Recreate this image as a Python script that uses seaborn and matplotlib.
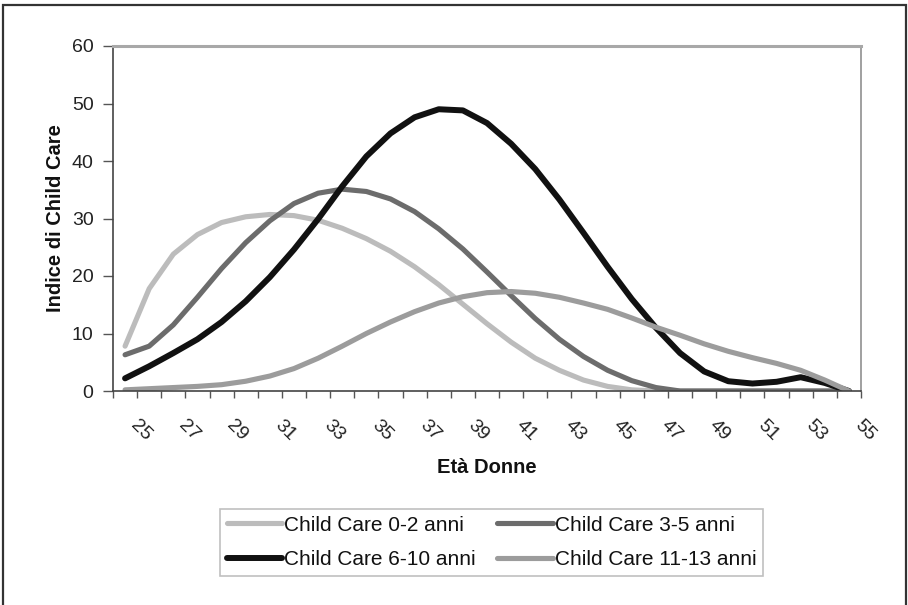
import matplotlib
matplotlib.use("Agg")
import matplotlib.pyplot as plt
from matplotlib.patches import Rectangle
from matplotlib.lines import Line2D
from matplotlib.transforms import ScaledTranslation
import numpy as np
import pandas as pd
import seaborn as sns

# Women's age (one category per year)
ages = list(range(25, 56))

# Child care index by age of the woman, one series per age band of the children
cc_0_2 = [7.8, 17.8, 23.8, 27.2, 29.3, 30.3, 30.7, 30.5, 29.7, 28.3, 26.5,
          24.3, 21.6, 18.5, 15.1, 11.7, 8.5, 5.7, 3.6, 1.9, 0.8, 0.2, 0.0,
          0.0, 0.0, 0.0, 0.0, 0.0, 0.0, 0.0, 0.0]
cc_3_5 = [6.3, 7.8, 11.5, 16.3, 21.3, 25.8, 29.6, 32.6, 34.4, 35.1, 34.7,
          33.4, 31.2, 28.2, 24.7, 20.7, 16.6, 12.6, 9.0, 6.0, 3.6, 1.8, 0.6,
          0.0, 0.0, 0.0, 0.0, 0.0, 0.0, 0.0, 0.0]
cc_6_10 = [2.2, 4.3, 6.6, 9.0, 12.0, 15.6, 19.8, 24.6, 29.9, 35.6, 40.8,
           44.8, 47.6, 49.0, 48.8, 46.6, 43.0, 38.6, 33.3, 27.5, 21.6, 16.0,
           11.0, 6.6, 3.4, 1.7, 1.3, 1.6, 2.4, 1.4, 0.0]
cc_11_13 = [0.2, 0.4, 0.6, 0.8, 1.1, 1.7, 2.6, 3.9, 5.7, 7.8, 10.0, 12.0,
            13.8, 15.3, 16.4, 17.1, 17.3, 17.0, 16.3, 15.3, 14.2, 12.7, 11.1,
            9.7, 8.2, 6.9, 5.8, 4.8, 3.6, 1.9, 0.0]

series_names = ["Child Care 0-2 anni", "Child Care 3-5 anni",
                "Child Care 6-10 anni", "Child Care 11-13 anni"]
series_colors = ["#bcbcbc", "#6c6c6c", "#111111", "#9c9c9c"]
series_widths = [3.7, 3.7, 4.3, 3.7]

x_ticks = list(range(25, 56, 2))
y_ticks = [0, 10, 20, 30, 40, 50, 60]

df = pd.DataFrame({
    "age": ages * 4,
    "value": cc_0_2 + cc_3_5 + cc_6_10 + cc_11_13,
    "series": sum([[n] * len(ages) for n in series_names], []),
})

sns.set_theme(style="white")
plt.rcParams["font.family"] = ["Liberation Sans", "DejaVu Sans"]

W, H = 908, 605
fig = plt.figure(figsize=(W / 100, H / 100), dpi=100)
fig.patch.set_facecolor("white")

# outer frame of the figure
fig.patches.append(Rectangle((3 / W, -0.05), 903 / W, 1.05 - 5 / H,
                             transform=fig.transFigure, fill=False,
                             edgecolor="#333333", linewidth=1.6))

left, right, top, bottom = 113, 861, 46, 391
ax = fig.add_axes([left / W, 1 - bottom / H, (right - left) / W, (bottom - top) / H])

palette = dict(zip(series_names, series_colors))
sns.lineplot(data=df, x="age", y="value", hue="series", hue_order=series_names,
             palette=palette, linewidth=3.7, ax=ax, legend=False,
             solid_capstyle="round", solid_joinstyle="round")
for line, lw in zip(ax.lines, series_widths):
    line.set_linewidth(lw)

ax.set_xlim(24.5, 55.5)
ax.set_ylim(0, 60)

# y axis
ax.set_yticks(y_ticks)
ax.set_yticklabels([str(v) for v in y_ticks])
ax.tick_params(axis="y", direction="out", length=7, width=1, color="#555555",
               labelsize=14, labelcolor="#222222", pad=7, left=True)

# x axis: tick marks between categories, labels every other year
ax.set_xticks(x_ticks)
ax.set_xticklabels([str(v) for v in x_ticks], rotation=-45, ha="left",
                   va="center", rotation_mode="anchor")
ax.set_xticks(np.arange(24.5, 56.0, 1.0), minor=True)
ax.tick_params(axis="x", which="major", length=0, labelsize=14,
               labelcolor="#222222", pad=23)
ax.tick_params(axis="x", which="minor", direction="out", length=5, width=1,
               color="#555555", bottom=True)
shift = ScaledTranslation(0.08, 0.0, fig.dpi_scale_trans)
for lbl in ax.get_xticklabels():
    lbl.set_transform(lbl.get_transform() + shift)

ax.set_xlabel("Età Donne", fontsize=14.5, fontweight="bold", color="#111111",
              labelpad=10)
ax.set_ylabel("Indice di Child Care", fontsize=14.5, fontweight="bold",
              color="#111111", labelpad=5)

for side in ("left", "bottom"):
    ax.spines[side].set_color("#444444")
    ax.spines[side].set_linewidth(1.2)
ax.spines["top"].set_color("#a8a8a8")
ax.spines["top"].set_linewidth(2.2)
ax.spines["right"].set_color("#a0a0a0")
ax.spines["right"].set_linewidth(1.4)
ax.grid(False)

# legend: two columns, rows read 0-2 / 3-5 and 6-10 / 11-13
order = [0, 2, 1, 3]
handles = [Line2D([], [], color=series_colors[i], linewidth=series_widths[i])
           for i in order]
labels = [series_names[i] for i in order]
leg = fig.legend(handles, labels, ncol=2, loc="center",
                 bbox_to_anchor=(491.5 / W, 1 - 542.5 / H), fontsize=15,
                 frameon=True, fancybox=False, handlelength=2.65,
                 handletextpad=0.1, columnspacing=1.05, labelspacing=0.75,
                 borderpad=0.3, borderaxespad=0)
leg.get_frame().set_edgecolor("#b0b0b0")
leg.get_frame().set_linewidth(1.2)
for t in leg.get_texts():
    t.set_color("#111111")

fig.savefig("out.png", dpi=100)
